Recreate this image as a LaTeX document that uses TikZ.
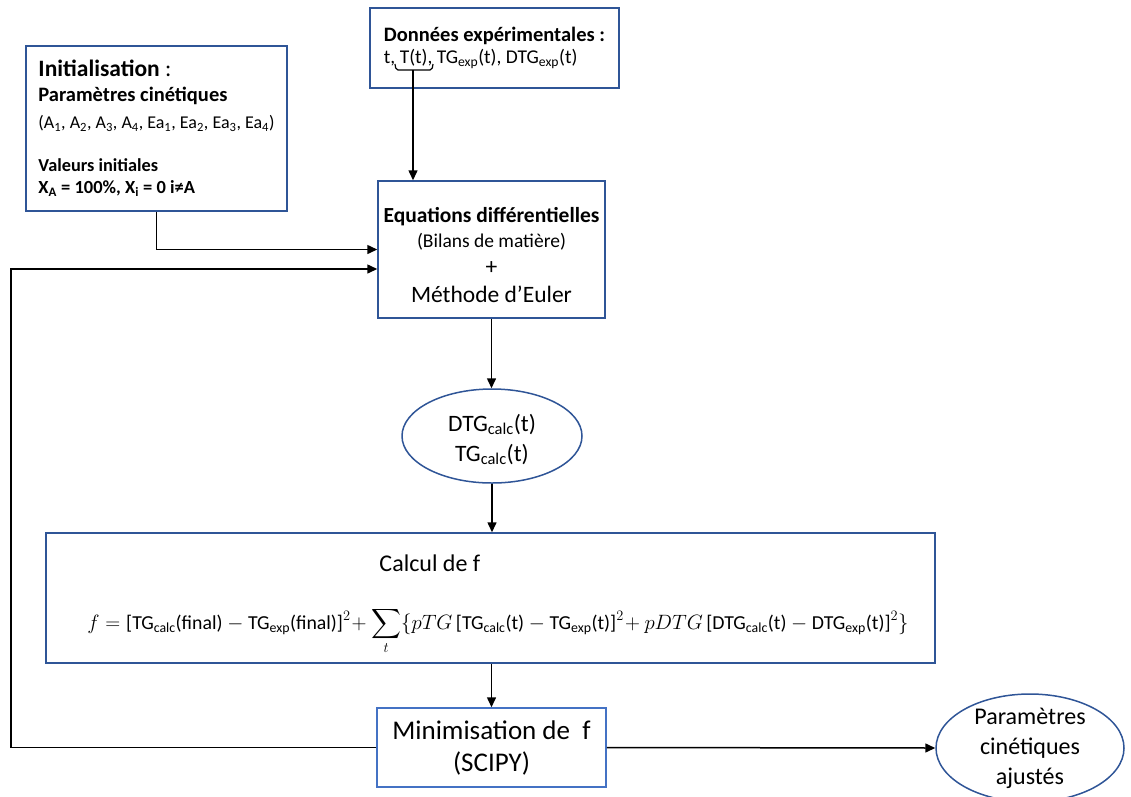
\documentclass[tikz,border=0pt]{standalone}
\usepackage{fontspec}
\usepackage{amsmath}
\setmainfont{Carlito}
\usetikzlibrary{arrows.meta,shapes.geometric}

\definecolor{boxblue}{RGB}{47,85,151}
\definecolor{minblue}{RGB}{68,114,196}

\newcommand{\fs}[2]{\fontsize{#1pt}{#2pt}\selectfont}
\newcommand{\tg}[2]{\text{#1}_{\text{#2}}}

\tikzset{
  box/.style={draw=boxblue, line width=1.5pt, rectangle, inner sep=0pt},
  bubble/.style={draw=boxblue, line width=1.5pt, ellipse, inner sep=0pt, align=center},
  link/.style={line width=1.5pt, -{Triangle[length=10pt,width=9pt]}},
}

\begin{document}
\begin{tikzpicture}[x=1pt, y=-1pt]
  \useasboundingbox (0,0) rectangle (1131,796);

  % Inputs
  \node[box, minimum width=261pt, minimum height=165pt,
        align=left, font=\fs{18}{22}] (init) at (156.5,128.5)
    {{\fs{23.5}{22}\textbf{Initialisation} :}\\[3pt]%
     {\fs{20.5}{22}\textbf{Paramètres cinétiques}}\\[5pt]%
     (A\textsubscript{1}, A\textsubscript{2}, A\textsubscript{3}, A\textsubscript{4}, Ea\textsubscript{1}, Ea\textsubscript{2}, Ea\textsubscript{3}, Ea\textsubscript{4})\\[21pt]%
     {\fs{18.3}{22}\textbf{Valeurs initiales}}\\%
     {\fs{18.5}{22}\textbf{X\textsubscript{A} = 100\%, X\textsubscript{i} = 0 i≠A}}};

  \node[box, minimum width=249pt, minimum height=80pt, align=left,
        font=\fs{20.5}{22}] (data) at (494.5,48)
    {\textbf{Données expérimentales :}\\%
     {\fs{19.5}{22}t, T(t), TG\textsubscript{exp}(t), DTG\textsubscript{exp}(t)}};

  % Brace under T(t)
  \draw[line width=1.2pt, rounded corners=2pt] (395,64) -- (396,70) -- (432,70) -- (433,64);
  \coordinate (brace) at (413,70);

  % Model
  \node[box, minimum width=227pt, minimum height=137pt, align=center,
        font=\fs{21.5}{25}] (eq) at (491.5,249.5)
    {\rule{0pt}{26pt}\textbf{Equations différentielles}\\%
     {\fs{19.5}{25}(Bilans de matière)}\\[2pt]%
     {\fs{23.5}{25}+}\\[3pt]%
     {\fs{23.5}{25}Méthode d’Euler}};

  \node[bubble, minimum width=180pt, minimum height=94pt, font=\fs{23.5}{30}] (calcres) at (492,436)
    {\rule{0pt}{24pt}DTG\textsubscript{calc}(t)\\%
     TG\textsubscript{calc}(t)};

  % Objective function
  \node[box, minimum width=889pt, minimum height=130pt, align=left,
        font=\fs{19.8}{58}] (calc) at (490.5,598)
    {\rule{0pt}{30pt}\hspace*{307pt}{\fs{24}{58}Calcul de f}\\%
     \hspace*{15pt}$\displaystyle f = \text{[}\tg{TG}{calc}\text{(final)} - \tg{TG}{exp}\text{(final)]}^2\!+\sum_t \{pTG\,\text{[}\tg{TG}{calc}\text{(t)} - \tg{TG}{exp}\text{(t)]}^2\!+pDTG\,\text{[}\tg{DTG}{calc}\text{(t)} - \tg{DTG}{exp}\text{(t)]}^2\}$};

  \node[box, draw=minblue, minimum width=229pt, minimum height=79pt, align=center,
        font=\fs{27}{32}] (min) at (491.5,747.5)
    {Minimisation de~~f\\%
     (SCIPY)};

  \node[bubble, minimum width=188pt, minimum height=108pt, inner sep=-4pt,
        font=\fs{24}{30}] (result) at (1030,748)
    {Paramètres\\%
     cinétiques\\%
     ajustés};

  % Connectors
  \coordinate (back) at (11,747.5);
  \draw[link] (brace) -- (brace |- eq.north);
  \draw[link] (init.south) |- (eq.west);
  \draw[link] (min.west) -- (back) |- ([yshift=-19.5pt]eq.west);
  \draw[link] (eq.south) -- (eq.south |- calcres.north);
  \draw[link] (calcres.south) -- (calcres.south |- calc.north);
  \draw[link] (min.north |- calc.south) -- (min.north);
  \draw[link] (min.east) -- (result.west);
\end{tikzpicture}
\end{document}
